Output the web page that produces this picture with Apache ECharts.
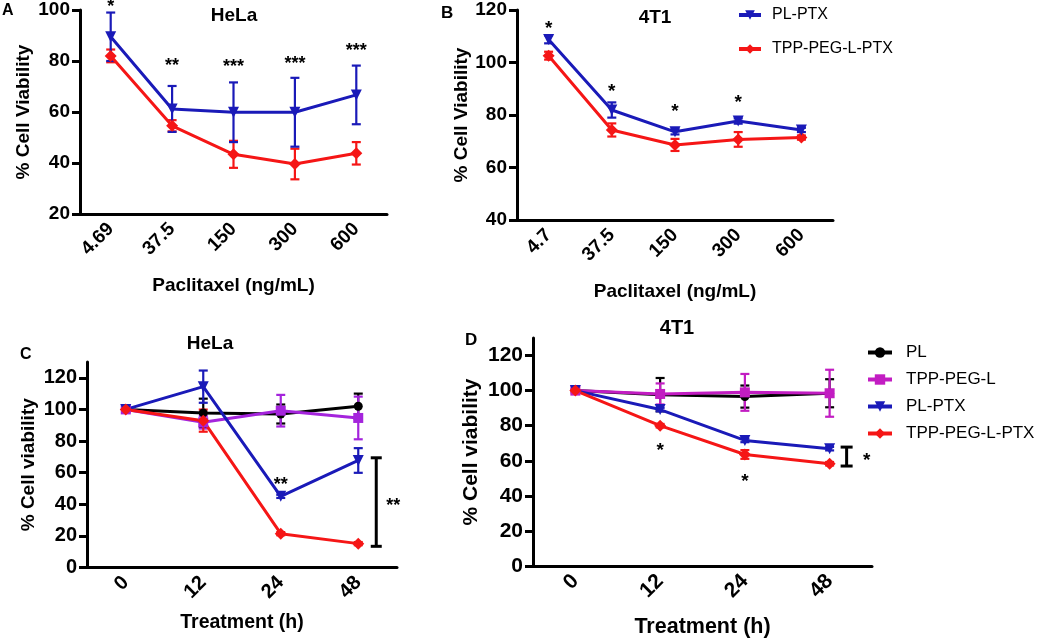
<!DOCTYPE html>
<html><head><meta charset="utf-8">
<script src="https://cdn.jsdelivr.net/npm/echarts@6/dist/echarts.min.js"></script>
<style>html,body{margin:0;padding:0;background:#fff}#c{width:1050px;height:638px}</style>
</head><body><div id="c"></div>
<script>
// ---------- DATA ----------
const catsA = ['4.69', '37.5', '150', '300', '600'];
const catsB = ['4.7', '37.5', '150', '300', '600'];
const catsT = ['0', '12', '24', '48'];
const yTicksA = [20, 40, 60, 80, 100];
const yTicksB = [40, 60, 80, 100, 120];
const yTicksCD = [0, 20, 40, 60, 80, 100, 120];

// Panel A (HeLa, dose)
const A_plptx = [89.5, 61.2, 59.9, 59.9, 66.7];
const A_plptxErr = [9.5, 9.0, 11.7, 13.5, 11.5];
const A_tpp = [82.0, 54.6, 43.4, 39.6, 43.8];
const A_tppErr = [2.5, 2.2, 5.3, 6.0, 4.4];
const A_stars = ['*', '**', '***', '***', '***'];
const A_starY = [102.7, 79.5, 79.0, 80.5, 85.5];

// Panel B (4T1, dose)
const B_plptx = [108.8, 81.9, 73.6, 77.7, 74.3];
const B_plptxErr = [1.5, 2.9, 1.0, 1.0, 0.8];
const B_tpp = [102.6, 74.3, 68.6, 70.7, 71.4];
const B_tppErr = [1.5, 2.5, 2.3, 2.8, 0.8];
const B_stars = ['*', '*', '*', '*', ''];
const B_starY = [114.3, 90.5, 82.8, 86.2, 0];

// Panel C (HeLa, time)
const C_pl = [100, 97.8, 97.1, 102.0];
const C_plErr = [1, 9, 6, 8];
const C_tppl = [100, 91.9, 99.2, 94.6];
const C_tpplErr = [2, 4, 10, 13.5];
const C_plptx = [100, 114.4, 45.0, 67.7];
const C_plptxErr = [1.5, 10.2, 1, 7.8];
const C_tppptx = [100, 92.9, 21.4, 15.1];
const C_tppptxErr = [1.5, 7, 1, 1];
const C_stars = ['', '', '**', ''];
const C_starY = [0, 0, 54.5, 0];
const C_bracket = {cat: 3, hi: 69.4, lo: 13.4, label: '**'};

// Panel D (4T1, time)
const D_pl = [100, 97.7, 96.6, 98.5];
const D_plErr = [1, 9.5, 6.3, 8];
const D_tppl = [100, 98.1, 99.0, 98.5];
const D_tpplErr = [1, 6, 10.5, 13.4];
const D_plptx = [100, 89.2, 71.6, 66.9];
const D_plptxErr = [1, 1, 1, 1];
const D_tppptx = [100, 80.0, 63.6, 58.3];
const D_tppptxErr = [1, 1, 2.5, 1];
const D_stars = ['', '*', '*', ''];
const D_starY = [0, 68.0, 50.4, 0];
const D_bracket = {cat: 3, hi: 67.8, lo: 57.0, label: '*'};

// ---------- STYLE ----------
const FONT = 'Liberation Sans';
const BLUE = '#1a1ab8', RED = '#f51616', BLACK = '#000000', PURPLE_C = '#a424dc', PURPLE_D = '#c21dc2';

function xAx(gi, cats, fs, name, nameGap, nameFs) {
  return {
    type: 'category', gridIndex: gi, data: cats, boundaryGap: true,
    axisLine: {onZero: false, lineStyle: {color: '#000', width: 3}},
    axisTick: {alignWithLabel: true, length: 7, lineStyle: {width: 3, color: '#000'}},
    axisLabel: {rotate: 45, margin: 12, interval: 0, color: '#000', fontFamily: FONT, fontWeight: 'bold', fontSize: fs},
    splitLine: {show: false},
    name: name, nameLocation: 'middle', nameGap: nameGap,
    nameTextStyle: {color: '#000', fontFamily: FONT, fontWeight: 'bold', fontSize: nameFs}
  };
}
function yAx(gi, min, max, ticks, fs, name, nameGap, nameFs) {
  return {
    type: 'value', gridIndex: gi, min: min, max: max, interval: 20,
    axisLine: {show: true, onZero: false, lineStyle: {color: '#000', width: 3}},
    axisTick: {show: true, length: 8, lineStyle: {width: 3, color: '#000'}, customValues: ticks},
    axisLabel: {margin: 10, color: '#000', fontFamily: FONT, fontWeight: 'bold', fontSize: fs, customValues: ticks},
    splitLine: {show: false},
    name: name, nameLocation: 'middle', nameGap: nameGap,
    nameTextStyle: {color: '#000', fontFamily: FONT, fontWeight: 'bold', fontSize: nameFs}
  };
}
function lineS(name, gi, data, color, symbol, size, rot) {
  return {
    type: 'line', name: name, xAxisIndex: gi, yAxisIndex: gi, data: data,
    symbol: symbol, symbolSize: size, symbolRotate: rot || 0, showAllSymbol: true,
    color: color, lineStyle: {width: 3, color: color}, itemStyle: {color: color},
    z: 3, animation: false
  };
}
function errS(gi, vals, errs, color, cap) {
  return {
    type: 'custom', xAxisIndex: gi, yAxisIndex: gi, silent: true, z: 2, animation: false,
    data: vals.map((v, i) => [i, v, errs[i]]),
    renderItem: function (params, api) {
      const i = api.value(0), v = api.value(1), e = api.value(2);
      const p1 = api.coord([i, v + e]), p2 = api.coord([i, v - e]);
      const hw = cap / 2, st = {stroke: color, lineWidth: 2.2};
      return {type: 'group', children: [
        {type: 'line', shape: {x1: p1[0], y1: p1[1], x2: p2[0], y2: p2[1]}, style: st},
        {type: 'line', shape: {x1: p1[0] - hw, y1: p1[1], x2: p1[0] + hw, y2: p1[1]}, style: st},
        {type: 'line', shape: {x1: p2[0] - hw, y1: p2[1], x2: p2[0] + hw, y2: p2[1]}, style: st}
      ]};
    }
  };
}
function starS(gi, labels, ys, fs) {
  const items = [];
  labels.forEach((t, i) => { if (t) items.push({i: i, y: ys[i], t: t}); });
  return {
    type: 'custom', xAxisIndex: gi, yAxisIndex: gi, silent: true, z: 5, animation: false, clip: false,
    data: items.map(d => [d.i, d.y]),
    renderItem: function (params, api) {
      const p = api.coord([api.value(0), api.value(1)]);
      return {type: 'text', x: p[0], y: p[1] + fs * 0.22,
        style: {text: items[params.dataIndex].t, fill: '#000', fontFamily: FONT, fontWeight: 'bold',
          fontSize: fs, align: 'center', verticalAlign: 'middle'}};
    }
  };
}
function bracketS(gi, b, offset, cap, labelOffset, fs) {
  return {
    type: 'custom', xAxisIndex: gi, yAxisIndex: gi, silent: true, z: 5, animation: false, clip: false,
    data: [[b.cat, b.hi, b.lo]],
    renderItem: function (params, api) {
      const top = api.coord([api.value(0), api.value(1)]);
      const bot = api.coord([api.value(0), api.value(2)]);
      const x = top[0] + offset, hw = cap / 2, st = {stroke: '#000', lineWidth: 3};
      return {type: 'group', children: [
        {type: 'line', shape: {x1: x, y1: top[1], x2: x, y2: bot[1]}, style: st},
        {type: 'line', shape: {x1: x - hw, y1: top[1], x2: x + hw, y2: top[1]}, style: st},
        {type: 'line', shape: {x1: x - hw, y1: bot[1], x2: x + hw, y2: bot[1]}, style: st},
        {type: 'text', x: top[0] + labelOffset, y: (top[1] + bot[1]) / 2 + fs * 0.22,
          style: {text: b.label, fill: '#000', fontFamily: FONT, fontWeight: 'bold', fontSize: fs,
            align: 'center', verticalAlign: 'middle'}}
      ]};
    }
  };
}
function ttl(text, x, y, fs, align) {
  return {text: text, left: x, top: y, textAlign: align || 'center', padding: 0,
    textStyle: {fontFamily: FONT, fontWeight: 'bold', fontSize: fs, color: '#000'}};
}

const option = {
  animation: false,
  backgroundColor: '#fff',
  title: [
    ttl('A', 2, 3, 16, 'left'), ttl('B', 441, 5, 17, 'left'),
    ttl('C', 20, 347, 16, 'left'), ttl('D', 465, 332, 17, 'left'),
    ttl('HeLa', 234, 6, 19), ttl('4T1', 655, 8, 19),
    ttl('HeLa', 210, 334, 19), ttl('4T1', 677, 318, 20)
  ],
  grid: [
    {left: 80, top: 10, width: 307, height: 204, outerBoundsMode: 'none', containLabel: false},
    {left: 517, top: 10, width: 316, height: 210, outerBoundsMode: 'none', containLabel: false},
    {left: 87, top: 362, width: 310, height: 205.5, outerBoundsMode: 'none', containLabel: false},
    {left: 533, top: 338, width: 339, height: 228, outerBoundsMode: 'none', containLabel: false}
  ],
  xAxis: [
    xAx(0, catsA, 19, 'Paclitaxel (ng/mL)', 62, 19),
    xAx(1, catsB, 19, 'Paclitaxel (ng/mL)', 62, 19),
    xAx(2, catsT, 20, 'Treatment (h)', 45, 19.5),
    xAx(3, catsT, 21, 'Treatment (h)', 50, 21.5)
  ],
  yAxis: [
    yAx(0, 20, 100, yTicksA, 19, '% Cell Viability', 47, 19),
    yAx(1, 40, 120, yTicksB, 19, '% Cell Viability', 45, 19),
    yAx(2, 0, 130, yTicksCD, 20, '% Cell viability', 49, 19),
    yAx(3, 0, 130, yTicksCD, 21, '% Cell viability', 51, 21)
  ],
  legend: [
    {orient: 'vertical', left: 737, top: 7, padding: 0, itemWidth: 22, itemHeight: 12, itemGap: 18,
      lineStyle: {width: 4}, itemStyle: {borderWidth: 0},
      data: ['PL-PTX', 'TPP-PEG-L-PTX'],
      textStyle: {fontFamily: FONT, fontSize: 16, color: '#000', padding: [0, 0, 0, 6]}},
    {orient: 'vertical', left: 866, top: 344, padding: 0, itemWidth: 24, itemHeight: 13, itemGap: 10,
      lineStyle: {width: 4}, itemStyle: {borderWidth: 0},
      data: ['PL', 'TPP-PEG-L', 'PL-PTX', 'TPP-PEG-L-PTX'],
      textStyle: {fontFamily: FONT, fontSize: 17, color: '#000', padding: [0, 0, 0, 9]}}
  ],
  series: [
    // A
    errS(0, A_tpp, A_tppErr, RED, 9), errS(0, A_plptx, A_plptxErr, BLUE, 9),
    lineS('TPP-PEG-L-PTX', 0, A_tpp, RED, 'diamond', 12),
    lineS('PL-PTX', 0, A_plptx, BLUE, 'triangle', 11, 180),
    starS(0, A_stars, A_starY, 18),
    // B
    errS(1, B_tpp, B_tppErr, RED, 9), errS(1, B_plptx, B_plptxErr, BLUE, 9),
    lineS('TPP-PEG-L-PTX', 1, B_tpp, RED, 'diamond', 12),
    lineS('PL-PTX', 1, B_plptx, BLUE, 'triangle', 11, 180),
    starS(1, B_stars, B_starY, 19),
    // D
    errS(3, D_pl, D_plErr, BLACK, 9), lineS('PL', 3, D_pl, BLACK, 'circle', 9),
    errS(3, D_tppl, D_tpplErr, PURPLE_D, 9), lineS('TPP-PEG-L', 3, D_tppl, PURPLE_D, 'rect', 10),
    errS(3, D_plptx, D_plptxErr, BLUE, 9), lineS('PL-PTX', 3, D_plptx, BLUE, 'triangle', 11, 180),
    errS(3, D_tppptx, D_tppptxErr, RED, 9), lineS('TPP-PEG-L-PTX', 3, D_tppptx, RED, 'diamond', 12),
    starS(3, D_stars, D_starY, 19),
    bracketS(3, D_bracket, 17, 12, 37, 19),
    // C
    errS(2, C_pl, C_plErr, BLACK, 9), lineS('PL', 2, C_pl, BLACK, 'circle', 9),
    errS(2, C_tppl, C_tpplErr, PURPLE_C, 9), lineS('TPP-PEG-L', 2, C_tppl, PURPLE_C, 'rect', 10),
    errS(2, C_plptx, C_plptxErr, BLUE, 9), lineS('PL-PTX', 2, C_plptx, BLUE, 'triangle', 11, 180),
    errS(2, C_tppptx, C_tppptxErr, RED, 9), lineS('TPP-PEG-L-PTX', 2, C_tppptx, RED, 'diamond', 12),
    starS(2, C_stars, C_starY, 18),
    bracketS(2, C_bracket, 18, 11, 35, 18)
  ]
};
const chart = echarts.init(document.getElementById('c'), null, {renderer: 'canvas'});
chart.setOption(option);
</script>
</body></html>
